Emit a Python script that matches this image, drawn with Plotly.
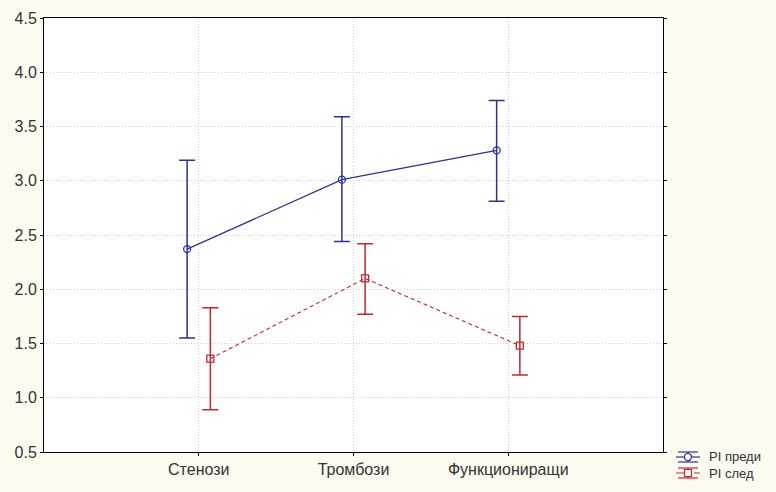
import plotly.graph_objects as go

categories = ["Стенози", "Тромбози", "Функциониращи"]
x_pos = [1, 2, 3]

pi_before = [2.37, 3.01, 3.28]
pi_before_hi = [3.19, 3.59, 3.74]
pi_before_lo = [1.55, 2.44, 2.81]

pi_after = [1.36, 2.10, 1.48]
pi_after_hi = [1.83, 2.42, 1.75]
pi_after_lo = [0.89, 1.77, 1.21]

series_names = ["PI преди", "PI след"]
y_ticks = [0.5, 1.0, 1.5, 2.0, 2.5, 3.0, 3.5, 4.0, 4.5]

BLUE = "#2E3192"
RED = "#C0282D"
FONT = "Liberation Sans, Arial, sans-serif"
shift = 0.075

W, H = 776, 492
M_L, M_R, M_T, M_B = 44, 113, 18, 40
PW, PH = W - M_L - M_R, H - M_T - M_B

fig = go.Figure()

fig.add_trace(go.Scatter(
    x=[p - shift for p in x_pos], y=pi_before, name=series_names[0],
    mode="lines+markers",
    line=dict(color=BLUE, width=1.3),
    marker=dict(symbol="circle-open", size=7, color=BLUE, line=dict(width=1.3)),
    error_y=dict(type="data", symmetric=False,
                 array=[h - m for h, m in zip(pi_before_hi, pi_before)],
                 arrayminus=[m - l for m, l in zip(pi_before, pi_before_lo)],
                 color=BLUE, thickness=1.5, width=8),
))

fig.add_trace(go.Scatter(
    x=[p + shift for p in x_pos], y=pi_after, name=series_names[1],
    mode="lines+markers",
    line=dict(color=RED, width=1.1, dash="4px,3px"),
    marker=dict(symbol="square-open", size=7, color=RED, line=dict(width=1.3)),
    error_y=dict(type="data", symmetric=False,
                 array=[h - m for h, m in zip(pi_after_hi, pi_after)],
                 arrayminus=[m - l for m, l in zip(pi_after, pi_after_lo)],
                 color=RED, thickness=1.5, width=8),
))


# legend drawn below-right of the plot, in pixel positions converted to paper coords
def px(xp):
    return (xp - M_L) / PW


def py(yp):
    return (H - M_B - yp) / PH


shapes = []
annotations = []
legend_items = [
    (series_names[0], BLUE, "solid", "circle", 457.0),
    (series_names[1], RED, "dash", "rect", 473.0),
]
for name, col, dash, sym, yc in legend_items:
    x0, x1, xc = 676, 700, 688
    line = dict(color=col, width=1.2, dash=dash)
    # whisker caps
    shapes.append(dict(type="line", xref="paper", yref="paper",
                       x0=px(x0 + 2), x1=px(x1 - 2), y0=py(yc - 5), y1=py(yc - 5),
                       line=dict(color=col, width=1.2)))
    shapes.append(dict(type="line", xref="paper", yref="paper",
                       x0=px(x0 + 2), x1=px(x1 - 2), y0=py(yc + 5), y1=py(yc + 5),
                       line=dict(color=col, width=1.2)))
    shapes.append(dict(type="line", xref="paper", yref="paper",
                       x0=px(xc), x1=px(xc), y0=py(yc - 5), y1=py(yc + 5),
                       line=dict(color=col, width=1.2)))
    # connecting line
    shapes.append(dict(type="line", xref="paper", yref="paper",
                       x0=px(x0), x1=px(x1), y0=py(yc), y1=py(yc), line=line))
    # marker
    shapes.append(dict(type=sym, xref="paper", yref="paper",
                       x0=px(xc - 3.5), x1=px(xc + 3.5), y0=py(yc - 3.5), y1=py(yc + 3.5),
                       fillcolor="#FFFFFF", line=dict(color=col, width=1.2)))
    annotations.append(dict(xref="paper", yref="paper", x=px(708), y=py(yc),
                            xanchor="left", yanchor="middle", showarrow=False,
                            borderpad=0,
                            text=name, font=dict(family=FONT, size=13, color="#333333")))

fig.update_layout(
    width=W, height=H,
    margin=dict(l=M_L, r=M_R, t=M_T, b=M_B, autoexpand=False),
    paper_bgcolor="#FDFAF0",
    plot_bgcolor="#FFFFFF",
    font=dict(family=FONT, size=16, color="#333333"),
    showlegend=False,
    shapes=shapes,
    annotations=annotations,
)

fig.update_xaxes(
    range=[0, 4], tickvals=x_pos, ticktext=categories,
    showgrid=True, gridcolor="#CFCFCF", griddash="1px,2px", gridwidth=1,
    showline=True, linecolor="#000000", linewidth=1, mirror=True,
    ticks="outside", ticklen=3, tickcolor="#000000", zeroline=False,
)
fig.update_yaxes(
    range=[0.5, 4.5], tickvals=y_ticks, tickformat=".1f",
    showgrid=True, gridcolor="#CFCFCF", griddash="1px,2px", gridwidth=1,
    showline=True, linecolor="#000000", linewidth=1, mirror="ticks",
    ticks="outside", ticklen=3, tickcolor="#000000", zeroline=False,
)

fig.write_html("out.html")
